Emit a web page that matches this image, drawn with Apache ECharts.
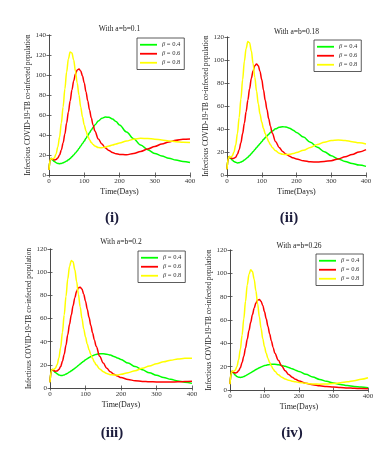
<!DOCTYPE html>
<html>
<head>
<meta charset="utf-8">
<script src="https://cdn.jsdelivr.net/npm/echarts@6/dist/echarts.min.js"></script>
<style>
  html, body { margin: 0; padding: 0; background: #fff; }
  #chart { width: 390px; height: 453px; }
</style>
</head>
<body>
<div id="chart"></div>
<script>
// 时间网格（天）
const T = [0, 3, 6, 10, 15, 20, 25, 30, 35, 40, 45, 50, 55, 60, 65, 70, 75, 80, 85, 90, 95, 100,
  105, 110, 115, 120, 125, 130, 140, 150, 160, 170, 180, 190, 200, 220, 240, 260, 280, 300,
  320, 340, 360, 380, 400];

// (i) a=b=0.1
const green1 = [5, 15, 16.5, 15, 13.5, 12.3, 11.6, 11.3, 11.5, 12.2, 13, 14, 15.2, 16.5, 18.2, 20, 22, 24, 26.5, 29, 31.5, 34,
  36.8, 39.5, 42.3, 45, 47.5, 50, 54, 56.8, 58, 57.7, 56, 53.5, 50, 43, 36.2, 30, 25.3, 21.6, 19, 16.8, 15, 13.6, 12.5];
const red1 = [5, 15, 16.5, 16, 15, 15.5, 17, 20, 25, 32, 41, 52, 63, 74, 85, 94, 101, 105, 106, 104, 99, 92,
  83, 74, 65, 57, 50, 44, 36, 31, 27, 24.5, 22.5, 21.3, 20.6, 20.2, 21.5, 23.5, 26, 28.5, 31, 33, 34.7, 35.7, 36];
const yellow1 = [5, 15, 16.5, 16, 17, 21, 28, 38, 52, 68, 86, 103, 116, 123, 122, 115, 104, 92, 80, 68, 58, 50,
  44, 39, 35.3, 32.5, 30.5, 29, 27.5, 27.2, 28, 29, 30, 31, 32, 34, 35.8, 36.7, 36.5, 35.8, 35, 34, 33.3, 32.8, 32.5];

// (ii) a=b=0.18
const green2 = [5, 14, 16, 14.5, 13, 11.8, 11, 10.5, 10.6, 11.2, 12, 13, 14.2, 15.5, 17, 18.5, 20.2, 22, 23.8, 25.5, 27.2, 29,
  30.8, 32.5, 34, 35.5, 37, 38.2, 40.2, 41.5, 42, 41.7, 40.7, 39, 37, 33, 28.5, 24.2, 20.3, 16.8, 14, 11.8, 10, 8.6, 7.5];
const red2 = [5, 14, 16, 15, 14.3, 14.5, 15.5, 18, 22, 28, 36, 45, 55, 65, 75, 84, 90.5, 95, 96.5, 95, 90, 83,
  74, 65, 57, 49, 42.5, 36.5, 29, 24, 20.5, 18, 16.3, 15, 14, 12.4, 11.5, 11.3, 11.7, 12.5, 14, 15.8, 17.8, 20, 22];
const yellow2 = [5, 14, 16, 15.5, 16.5, 20, 26, 36, 50, 66, 83, 99, 110, 116, 115, 108, 97, 85, 73, 62, 53, 46,
  40.5, 36, 32.3, 29, 26.3, 24, 21, 19, 18, 17.8, 18, 18.6, 19.5, 21.5, 24, 26.5, 28.5, 30, 30.5, 30, 29, 28, 27];

// (iii) a=b=0.2
const green3 = [5, 14, 16, 15, 13.5, 12.2, 11.3, 10.8, 10.8, 11.3, 12, 12.8, 13.8, 14.8, 15.9, 17, 18.2, 19.5, 20.8, 22, 23.2, 24.3,
  25.3, 26.3, 27.1, 27.9, 28.5, 29, 29.6, 29.6, 29.2, 28.4, 27.3, 26, 24.6, 21.5, 18.5, 15.7, 13.2, 11, 9.1, 7.5, 6.1, 5, 4];
const red3 = [5, 14, 16, 15.2, 14.5, 14.7, 16, 18.5, 23, 29, 37, 46, 55, 63, 71, 78, 83.5, 86.5, 87, 85.5, 81, 75,
  68, 61, 54, 47.5, 41.5, 36, 27.5, 21.5, 17, 14, 11.8, 10.3, 9, 7.3, 6.3, 5.7, 5.4, 5.2, 5.1, 5.1, 5.3, 5.6, 5.9];
const yellow3 = [5, 14, 16, 16, 17, 20, 26, 35, 48, 63, 79, 94, 105, 110, 109, 102, 92, 81, 70, 60, 51, 44,
  38, 33, 29, 25.5, 22.5, 20, 16.5, 14, 12.5, 11.5, 11.2, 11.3, 11.8, 13.2, 15, 17, 19, 21, 22.6, 24, 25, 25.6, 25.6];

// (iv) a=b=0.26
const green4 = [5, 14, 16, 14.5, 12.8, 11.6, 11, 10.8, 11, 11.6, 12.3, 13, 13.9, 14.8, 15.7, 16.6, 17.5, 18.3, 19.1, 19.8, 20.4, 20.9,
  21.3, 21.6, 21.8, 22, 22, 22, 21.7, 21.1, 20.3, 19.3, 18.2, 17, 15.8, 13.4, 11.1, 9.1, 7.4, 6, 4.8, 3.9, 3.1, 2.5, 2];
const red4 = [5, 14, 16, 15.3, 14.6, 15, 16.5, 19, 23.5, 29, 36, 43.5, 51, 58, 64.5, 70, 74.5, 77, 77.5, 76, 72.5, 67,
  61, 54.5, 48, 42, 36.5, 31.5, 25.5, 20.5, 16.5, 13.3, 11, 9.2, 7.8, 5.8, 4.5, 3.6, 3, 2.5, 2.1, 1.8, 1.5, 1.2, 1];
const yellow4 = [5, 14, 16, 16, 17, 20, 26, 35, 47, 61, 76, 90, 99, 103, 101.5, 95, 85, 74, 63, 53, 44, 37,
  31.5, 27, 23.5, 20.5, 18, 16, 13, 11, 9.5, 8.4, 7.6, 7, 6.5, 5.7, 5.2, 5, 5.1, 5.5, 6.2, 7, 8, 9.2, 10.5];

const betaNames = ['β = 0.4', 'β = 0.6', 'β = 0.8'];
const panelTitles = ['With a=b=0.1', 'With a=b=0.18', 'With a=b=0.2', 'With a=b=0.26'];
const panelTags = ['(i)', '(ii)', '(iii)', '(iv)'];
const yMax = [140, 120, 120, 120];
const seriesData = [
  [green1, red1, yellow1],
  [green2, red2, yellow2],
  [green3, red3, yellow3],
  [green4, red4, yellow4],
];

const LINE_COLORS = ['#00ff00', '#ff0000', '#ffff00'];
const SERIF = '"Liberation Serif", "DejaVu Serif", serif';

// 每个子图的位置（像素）
const LAYOUT = [
  { left: 49, top: 35, width: 141, height: 140, titleY: 29, tagX: 112, tagY: 218, legend: [137, 38] },
  { left: 227, top: 37, width: 139, height: 138, titleY: 32, tagX: 289, tagY: 218, legend: [314, 40] },
  { left: 50, top: 249, width: 142, height: 139, titleY: 242, tagX: 112, tagY: 433, legend: [138, 251] },
  { left: 230, top: 250, width: 138, height: 140, titleY: 246, tagX: 292, tagY: 433, legend: [316, 254] },
];

const chart = echarts.init(document.getElementById('chart'));

const grid = [], xAxis = [], yAxis = [], series = [], legend = [], graphic = [];

const axisLine = { show: true, lineStyle: { color: '#444', width: 0.8 } };
const axisTick = { show: true, inside: true, length: 2.5, lineStyle: { color: '#444', width: 0.8 } };

LAYOUT.forEach((p, i) => {
  grid.push({ left: p.left, top: p.top, width: p.width, height: p.height, show: false });

  xAxis.push({
    gridIndex: i, type: 'value', min: 0, max: 400, interval: 100,
    axisLine, axisTick, splitLine: { show: false },
    axisLabel: { color: '#333', fontSize: 7, fontFamily: SERIF, margin: 3 },
    name: 'Time(Days)', nameLocation: 'middle', nameGap: 13,
    nameTextStyle: { color: '#222', fontSize: 8, fontFamily: SERIF },
  });
  xAxis.push({
    gridIndex: i, type: 'value', min: 0, max: 400, interval: 100, position: 'top',
    axisLine, axisTick, axisLabel: { show: false }, splitLine: { show: false },
  });

  yAxis.push({
    gridIndex: i, type: 'value', min: 0, max: yMax[i], interval: 20,
    axisLine, axisTick, splitLine: { show: false },
    axisLabel: { color: '#333', fontSize: 7, fontFamily: SERIF, margin: 3 },
    name: 'Infectious COVID-19-TB co-infected population', nameLocation: 'middle', nameGap: 15,
    nameTextStyle: { color: '#222', fontSize: 7.2, fontFamily: SERIF },
  });
  yAxis.push({
    gridIndex: i, type: 'value', min: 0, max: yMax[i], interval: 20, position: 'right',
    axisLine, axisTick, axisLabel: { show: false }, splitLine: { show: false },
  });

  seriesData[i].forEach((vals, k) => {
    series.push({
      type: 'line', name: betaNames[k],
      xAxisIndex: i * 2, yAxisIndex: i * 2,
      data: T.map((t, j) => [t, vals[j]]),
      symbol: 'none', smooth: 0.35, smoothMonotone: 'x',
      lineStyle: { color: LINE_COLORS[k], width: 1.5 },
      itemStyle: { color: LINE_COLORS[k] },
      silent: true, animation: false,
    });
  });

  // 图例：只画线段，不画圆点
  legend.push({
    left: p.legend[0], top: p.legend[1], orient: 'vertical',
    data: betaNames, backgroundColor: '#fff', borderColor: '#333', borderWidth: 0.8,
    padding: [3, 4, 3, 3], itemGap: 1.5, itemWidth: 17, itemHeight: 1.8,
    icon: 'rect', selectedMode: false,
    formatter: name => '{b|β}' + name.slice(1),
    textStyle: {
      color: '#333', fontSize: 6.5, fontFamily: SERIF, lineHeight: 7.5,
      rich: { b: { fontStyle: 'italic', fontSize: 6.5, fontFamily: SERIF, color: '#333' } },
    },
  });

  graphic.push({
    type: 'text', x: p.left + p.width / 2, y: p.titleY,
    style: {
      text: panelTitles[i], fill: '#222', font: '7.5px ' + SERIF,
      textAlign: 'center', textVerticalAlign: 'middle',
    },
  });
  graphic.push({
    type: 'text', x: p.tagX, y: p.tagY,
    style: {
      text: panelTags[i], fill: '#1c1c3c', font: 'bold 15px ' + SERIF,
      textAlign: 'center', textVerticalAlign: 'middle',
    },
  });
});

chart.setOption({
  backgroundColor: '#fff',
  animation: false,
  grid, xAxis, yAxis, series, legend, graphic,
});
</script>
</body>
</html>
